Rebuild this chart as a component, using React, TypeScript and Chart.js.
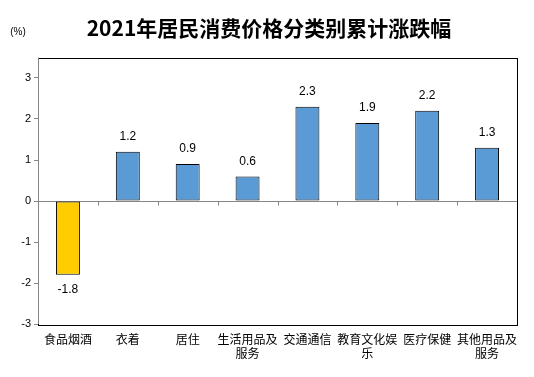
import React, { useEffect, useRef } from "react";
import { Chart, registerables } from "chart.js";

Chart.register(...registerables);

const categories: (string | string[])[] = [
  "食品烟酒",
  "衣着",
  "居住",
  ["生活用品及", "服务"],
  "交通通信",
  ["教育文化娱", "乐"],
  "医疗保健",
  ["其他用品及", "服务"],
];
const values = [-1.8, 1.2, 0.9, 0.6, 2.3, 1.9, 2.2, 1.3];
const yTicks = [-3, -2, -1, 0, 1, 2, 3];
const title = "2021年居民消费价格分类别累计涨跌幅";
const unitLabel = "(%)";

const CJK = '"Noto Sans CJK SC", "Noto Sans", sans-serif';
const LAT = '"Liberation Sans", Arial, sans-serif';

const decor = {
  id: "decor",
  beforeDatasetsDraw(chart: any) {
    const { ctx, chartArea, scales } = chart;
    const y0 = Math.round(scales.y.getPixelForValue(0)) + 0.5;
    ctx.save();
    // plot box
    ctx.strokeStyle = "#000";
    ctx.lineWidth = 1;
    ctx.strokeRect(
      Math.round(chartArea.left) + 0.5,
      Math.round(chartArea.top) + 0.5,
      Math.round(chartArea.right - chartArea.left),
      Math.round(chartArea.bottom - chartArea.top)
    );
    // zero line
    ctx.strokeStyle = "#868686";
    ctx.beginPath();
    ctx.moveTo(chartArea.left, y0);
    ctx.lineTo(chartArea.right, y0);
    const n = categories.length;
    const w = (chartArea.right - chartArea.left) / n;
    for (let i = 1; i < n; i++) {
      const x = Math.round(chartArea.left + w * i) + 0.5;
      ctx.moveTo(x, y0);
      ctx.lineTo(x, y0 + 4);
    }
    ctx.stroke();
    // left axis line
    ctx.beginPath();
    const xl = Math.round(chartArea.left) + 0.5;
    ctx.moveTo(xl, chartArea.top);
    ctx.lineTo(xl, chartArea.bottom);
    ctx.stroke();
    ctx.restore();
  },
  afterDatasetsDraw(chart: any) {
    const { ctx } = chart;
    const meta = chart.getDatasetMeta(0);
    ctx.save();
    ctx.fillStyle = "#000";
    ctx.font = `12px ${LAT}`;
    ctx.textAlign = "center";
    ctx.textBaseline = "middle";
    meta.data.forEach((bar: any, i: number) => {
      const v = values[i];
      const y = v >= 0 ? bar.y - 15 : bar.y + 15;
      ctx.fillText(v.toFixed(1), bar.x, y);
    });
    // title
    ctx.font = `bold 21px ${CJK}`;
    ctx.fillText(title, 269, 28);
    ctx.font = `10px ${LAT}`;
    ctx.fillText(unitLabel, 18, 32);
    ctx.restore();
  },
};

export default function App() {
  const ref = useRef<HTMLCanvasElement>(null);
  useEffect(() => {
    if (!ref.current) return;
    const chart = new Chart(ref.current, {
      type: "bar",
      data: {
        labels: categories as any,
        datasets: [
          {
            data: values,
            backgroundColor: values.map((v) => (v < 0 ? "#FFCC00" : "#5B9BD5")),
            borderColor: "#000",
            borderWidth: 1,
            borderSkipped: false,
            barPercentage: 0.4,
            categoryPercentage: 1,
          },
        ],
      },
      options: {
        animation: false,
        responsive: false,
        maintainAspectRatio: false,
        layout: { padding: { top: 57.5, right: 17, left: 0, bottom: 0 } },
        plugins: { legend: { display: false }, tooltip: { enabled: false }, title: { display: false } },
        scales: {
          x: {
            grid: { display: false, drawTicks: false },
            border: { display: false },
            ticks: {
              color: "#000",
              font: { family: CJK, size: 12 },
              padding: 8,
              maxRotation: 0,
              autoSkip: false,
            },
            afterFit(scale: any) {
              scale.height = 53;
            },
          },
          y: {
            min: -3,
            max: 3.5,
            afterBuildTicks(scale: any) {
              scale.ticks = yTicks.map((v) => ({ value: v }));
            },
            grid: { drawOnChartArea: false, tickLength: 4, color: "#868686" },
            border: { display: false },
            ticks: {
              color: "#000",
              font: { family: LAT, size: 11 },
              padding: 3,
            },
            afterFit(scale: any) {
              scale.width = 38;
            },
          },
        },
      },
      plugins: [decor],
    });
    return () => chart.destroy();
  }, []);
  return (
    <div style={{ position: "fixed", left: 0, top: 0, width: 534, height: 377, background: "#fff" }}>
      <canvas ref={ref} width={534} height={377} style={{ width: 534, height: 377 }} />
    </div>
  );
}
